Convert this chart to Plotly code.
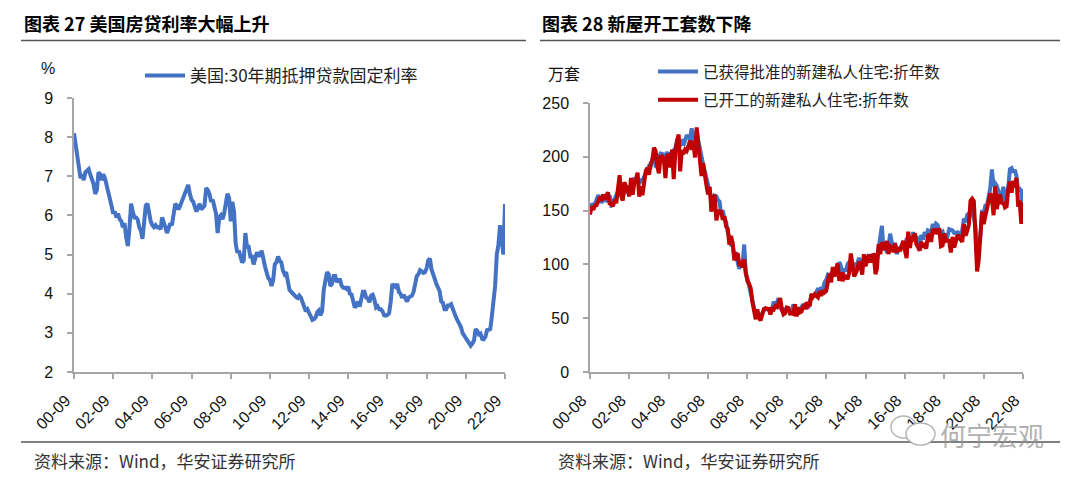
import pandas as pd
import plotly.graph_objects as go

W, H = 1080, 481
OFF = 8  # page body margin in the browser; screen px -> figure px

# ---------------- data ----------------
# Left: US 30-year fixed mortgage rate (%), monthly, 2000-09 .. 2022-09
rate_start = "2000-09-01"
rate_values = [
    8.10, 7.80, 7.60, 7.20,
    6.95, 7.05, 6.90, 7.10, 7.15, 7.18, 7.05, 6.95, 6.80, 6.55, 6.65, 7.10,
    7.05, 6.90, 7.05, 6.95, 6.80, 6.65, 6.45, 6.25, 6.05, 6.10, 5.95, 6.05,
    5.90, 5.85, 5.70, 5.80, 5.45, 5.22, 5.65, 6.30, 6.10, 5.95, 5.95, 5.90,
    5.70, 5.60, 5.40, 5.85, 6.25, 6.30, 6.05, 5.85, 5.75, 5.70, 5.75, 5.70,
    5.70, 5.65, 5.95, 5.85, 5.70, 5.55, 5.70, 5.80, 5.75, 6.05, 6.30, 6.25,
    6.15, 6.25, 6.35, 6.50, 6.60, 6.70, 6.78, 6.55, 6.40, 6.35, 6.20, 6.10,
    6.20, 6.30, 6.15, 6.20, 6.25, 6.70, 6.65, 6.55, 6.35, 6.40, 6.20, 6.05,
    5.55, 5.95, 6.00, 5.90, 6.05, 6.35, 6.55, 6.45, 5.85, 6.35, 6.10, 5.30,
    5.05, 5.10, 4.95, 4.80, 4.85, 5.55, 5.20, 5.20, 4.95, 4.95, 4.75, 4.90,
    5.05, 5.00, 4.95, 5.10, 4.85, 4.70, 4.55, 4.40, 4.35, 4.20, 4.35, 4.75,
    4.80, 4.95, 4.85, 4.80, 4.60, 4.50, 4.55, 4.30, 4.10, 4.05, 4.00, 3.95,
    3.92, 3.89, 3.95, 3.90, 3.80, 3.68, 3.55, 3.60, 3.50, 3.38, 3.33, 3.35,
    3.40, 3.53, 3.57, 3.45, 3.55, 4.10, 4.40, 4.55, 4.50, 4.20, 4.25, 4.45,
    4.45, 4.30, 4.35, 4.35, 4.20, 4.15, 4.15, 4.12, 4.18, 4.00, 3.98, 3.85,
    3.65, 3.70, 3.80, 3.67, 3.85, 4.05, 4.05, 3.90, 3.88, 3.78, 3.95, 3.97,
    3.85, 3.65, 3.68, 3.60, 3.60, 3.55, 3.45, 3.44, 3.46, 3.50, 3.80, 4.25,
    4.20, 4.17, 4.25, 4.05, 4.00, 3.90, 3.97, 3.88, 3.80, 3.90, 3.92, 3.95,
    4.05, 4.35, 4.45, 4.50, 4.60, 4.57, 4.53, 4.55, 4.65, 4.85, 4.90, 4.62,
    4.45, 4.37, 4.25, 4.15, 4.07, 3.80, 3.77, 3.60, 3.60, 3.70, 3.70, 3.73,
    3.62, 3.45, 3.40, 3.31, 3.23, 3.15, 3.00, 2.94, 2.88, 2.82, 2.75, 2.67,
    2.73, 2.81, 3.10, 3.05, 2.96, 2.98, 2.85, 2.84, 2.90, 3.07, 3.08, 3.10,
    3.45, 3.80, 4.20, 5.00, 5.25, 5.75, 5.30, 5.00, 6.29,
]
rate_ticks = ["00-09", "02-09", "04-09", "06-09", "08-09", "10-09",
              "12-09", "14-09", "16-09", "18-09", "20-09", "22-09"]

# Right: housing permits / starts (万套, SAAR), monthly, 2000-08 .. 2022-08
house_start = "2000-08-01"
permits = [
    153.3, 155.4, 155.8, 156.2, 160.2,
    164.4, 161.3, 157.2, 160.5, 162.5, 158.2, 162.4, 164.2, 154.8, 155.5, 160.9, 163.6,
    167.5, 168.1, 174.5, 162.4, 168.8, 173.2, 170.4, 167.5, 170.2, 172.1, 179.5, 179.6,
    177.4, 175.0, 178.1, 177.9, 181.4, 184.0, 187.8, 191.5, 190.9, 196.9, 201.7, 192.0,
    192.5, 199.6, 203.1, 202.8, 200.6, 201.6, 204.3, 200.6, 202.1, 204.4, 206.1, 208.0,
    214.9, 214.2, 209.9, 216.3, 210.7, 215.2, 220.2, 217.8, 216.8, 226.6, 209.5, 214.0,
    224.3, 215.0, 207.0, 201.6, 192.9, 186.6, 179.6, 174.6, 165.1, 158.3, 155.0, 163.8,
    163.2, 159.8, 158.4, 146.9, 150.4, 142.6, 139.5, 130.0, 122.9, 118.4, 118.5, 107.5,
    108.9, 100.7, 95.8, 101.4, 99.4, 118.5, 91.5, 86.6, 79.6, 73.5, 63.6, 56.1,
    53.0, 55.1, 52.1, 52.1, 54.9, 57.2, 58.2, 58.6, 58.5, 55.2, 58.9, 65.4,
    62.2, 64.9, 68.5, 59.9, 57.7, 58.4, 57.9, 57.7, 57.1, 57.0, 56.3, 62.7,
    56.6, 53.4, 59.5, 56.3, 60.4, 62.9, 59.4, 62.6, 59.4, 65.2, 71.0, 70.4,
    71.1, 73.5, 77.9, 73.2, 79.1, 76.8, 83.2, 85.6, 90.3, 89.1, 91.5, 90.9,
    93.9, 95.2, 90.7, 102.1, 98.5, 90.9, 96.0, 93.3, 100.3, 102.1, 99.4, 99.1,
    95.2, 101.4, 99.8, 106.1, 100.7, 100.5, 105.2, 99.9, 105.4, 109.2, 105.3, 106.1,
    106.8, 109.2, 105.1, 115.3, 127.1, 135.9, 113.2, 117.8, 110.7, 116.5, 128.6, 120.4,
    118.2, 118.4, 109.8, 113.3, 115.7, 116.4, 117.9, 114.7, 123.5, 124.2, 121.2, 122.8,
    130.0, 121.9, 126.0, 122.8, 116.8, 127.5, 123.0, 130.0, 126.2, 131.6, 130.3, 130.0,
    137.7, 133.0, 137.7, 136.4, 130.1, 129.2, 130.3, 124.9, 127.0, 126.5, 132.8, 132.6,
    131.7, 129.1, 128.8, 129.9, 129.4, 122.0, 131.7, 142.5, 139.1, 146.1, 147.4, 146.6,
    153.6, 145.2, 135.6, 106.6, 121.6, 125.8, 148.3, 147.6, 154.5, 154.5, 163.5, 170.9,
    188.3, 172.6, 175.5, 173.3, 168.3, 159.4, 163.0, 172.1, 158.6, 165.3, 171.7, 188.5,
    189.5, 185.7, 187.9, 182.3, 169.5, 170.1, 168.5, 151.7,
]
starts = [
    146.3, 154.1, 150.7, 154.9, 155.1,
    160.0, 162.5, 159.0, 164.9, 160.5, 163.6, 167.0, 156.7, 156.2, 154.0, 160.2, 156.8,
    169.8, 182.9, 164.2, 159.2, 176.4, 171.7, 165.5, 163.3, 180.4, 164.8, 175.3, 178.8,
    185.3, 162.9, 172.6, 164.3, 175.1, 186.7, 189.7, 183.3, 193.9, 196.7, 208.3, 205.7,
    191.1, 184.6, 199.8, 200.3, 198.1, 180.3, 200.7, 202.3, 190.1, 206.6, 179.2, 204.2,
    214.4, 220.7, 186.4, 206.1, 202.5, 206.8, 205.4, 209.5, 215.1, 206.5, 214.7, 199.4,
    227.3, 211.9, 196.9, 182.1, 194.2, 180.2, 173.7, 165.0, 172.0, 149.1, 157.0, 164.9,
    140.9, 148.0, 149.5, 149.0, 141.5, 144.8, 135.4, 133.0, 118.3, 126.4, 119.7, 103.7,
    108.4, 110.3, 100.5, 101.3, 97.3, 104.6, 92.3, 84.4, 82.0, 77.7, 65.2, 56.0,
    49.0, 58.2, 50.5, 47.8, 54.0, 58.5, 59.4, 58.6, 58.5, 53.4, 58.8, 58.1,
    61.4, 60.4, 63.6, 68.7, 58.3, 53.6, 54.6, 59.9, 59.4, 54.3, 54.5, 53.9,
    63.0, 51.7, 60.0, 55.4, 56.1, 60.8, 62.3, 58.5, 65.0, 61.1, 72.4, 69.9,
    72.3, 70.4, 69.5, 75.3, 70.8, 75.7, 74.0, 75.4, 84.7, 91.5, 83.3, 97.6,
    88.8, 96.2, 101.0, 84.7, 92.5, 84.4, 89.8, 88.3, 86.3, 92.1, 110.1, 100.1,
    88.8, 91.8, 95.4, 102.5, 98.5, 90.6, 109.5, 98.4, 103.1, 109.0, 101.6, 108.3,
    108.7, 90.9, 96.2, 118.8, 109.4, 120.6, 115.8, 113.7, 121.8, 109.7, 117.0, 116.0,
    111.5, 119.4, 111.0, 115.2, 112.4, 118.7, 121.8, 113.1, 105.8, 130.5, 115.4, 124.1,
    123.3, 128.9, 118.7, 116.2, 112.8, 121.0, 116.1, 117.8, 114.8, 126.4, 128.2, 120.9,
    132.7, 130.5, 133.0, 128.0, 133.7, 117.0, 117.7, 128.7, 121.9, 122.7, 121.7, 111.1,
    125.6, 115.7, 122.1, 126.2, 126.3, 123.7, 120.9, 137.5, 126.7, 131.3, 136.9, 159.2,
    161.1, 158.7, 128.1, 93.4, 103.8, 127.3, 148.7, 137.4, 144.7, 152.5, 155.6, 165.9,
    161.2, 145.7, 172.5, 151.4, 159.4, 165.0, 156.2, 158.0, 153.0, 153.9, 170.3, 176.8,
    166.6, 177.7, 171.6, 180.5, 156.2, 157.1, 137.7, 157.5,
]
house_ticks = ["00-08", "02-08", "04-08", "06-08", "08-08", "10-08",
               "12-08", "14-08", "16-08", "18-08", "20-08", "22-08"]

rate_dates = pd.date_range(rate_start, periods=len(rate_values), freq="MS")
house_dates = pd.date_range(house_start, periods=len(permits), freq="MS")


def tickdates(labels):
    return ["20" + s + "-01" for s in labels]


# ---------------- styling ----------------
BLUE = "#4472C4"
RED = "#C00000"
AXIS = "#A6A6A6"
NUM_FONT = "Liberation Sans, Arial, Noto Sans CJK SC"
CJK_FONT = "Noto Sans CJK SC, Liberation Sans"


def px_x(x):
    return (x - OFF) / W


def px_y(y):
    return 1 - (y - OFF) / H


fig = go.Figure()
fig.add_trace(go.Scatter(x=rate_dates, y=rate_values, mode="lines",
                         name="美国:30年期抵押贷款固定利率",
                         line=dict(color=BLUE, width=4),
                         xaxis="x", yaxis="y", legend="legend"))
fig.add_trace(go.Scatter(x=house_dates, y=permits, mode="lines",
                         name="已获得批准的新建私人住宅:折年数",
                         line=dict(color=BLUE, width=4), legendgroup="a",
                         xaxis="x2", yaxis="y2", legend="legend2"))
fig.add_trace(go.Scatter(x=house_dates, y=starts, mode="lines",
                         name="已开工的新建私人住宅:折年数",
                         line=dict(color=RED, width=4), legendgroup="b",
                         xaxis="x2", yaxis="y2", legend="legend2"))

axis_common = dict(showgrid=False, zeroline=False, showline=True,
                   automargin=False,
                   linecolor=AXIS, linewidth=1.5, ticks="outside",
                   tickcolor=AXIS, ticklen=5, tickwidth=1.5,
                   tickfont=dict(family=NUM_FONT, size=16, color="#111111"))
xtick_extra = dict(tickangle=-45, ticklabelstandoff=6, ticklabelshift=-8)

fig.update_layout(
    width=W, height=H, autosize=False,
    margin=dict(l=0, r=0, t=0, b=0, pad=0, autoexpand=False),
    paper_bgcolor="white", plot_bgcolor="white",
    showlegend=True,
    xaxis=dict(domain=[px_x(74), px_x(505)], anchor="y", type="date",
               range=[rate_start, "2022-09-01"],
               tickvals=tickdates(rate_ticks), ticktext=rate_ticks,
               **xtick_extra, **axis_common),
    yaxis=dict(domain=[px_y(372), px_y(98)], anchor="x", range=[2, 9],
               dtick=1, ticklabelstandoff=11, **axis_common),
    xaxis2=dict(domain=[px_x(590), px_x(1023)], anchor="y2", type="date",
                range=[house_start, "2022-08-01"],
                tickvals=tickdates(house_ticks), ticktext=house_ticks,
                **xtick_extra, **axis_common),
    yaxis2=dict(domain=[px_y(372), px_y(103)], anchor="x2", range=[0, 250],
                dtick=50, ticklabelstandoff=11, **axis_common),
    legend=dict(x=px_x(140), y=px_y(58), xanchor="left", yanchor="top",
                bgcolor="rgba(0,0,0,0)", itemwidth=40,
                font=dict(family=CJK_FONT, size=17, color="#222222")),
    legend2=dict(x=px_x(653), y=px_y(55), xanchor="left", yanchor="top",
                 bgcolor="rgba(0,0,0,0)", tracegroupgap=5, itemwidth=40,
                 font=dict(family=CJK_FONT, size=15.5, color="#222222")),
)

P = dict(xref="paper", yref="paper", showarrow=False)
annotations = [
    dict(text="<b>图表 27 美国房贷利率大幅上升</b>", x=px_x(22), y=px_y(23),
         xanchor="left", yanchor="middle",
         font=dict(family=CJK_FONT, size=18, color="#000000"), **P),
    dict(text="<b>图表 28 新屋开工套数下降</b>", x=px_x(540), y=px_y(23),
         xanchor="left", yanchor="middle",
         font=dict(family=CJK_FONT, size=18, color="#000000"), **P),
    dict(text="%", x=px_x(48), y=px_y(68), xanchor="center", yanchor="middle",
         font=dict(family=NUM_FONT, size=16, color="#111111"), **P),
    dict(text="万套", x=px_x(564), y=px_y(73), xanchor="center", yanchor="middle",
         font=dict(family=CJK_FONT, size=16, color="#111111"), **P),
    dict(text="资料来源：Wind，华安证券研究所", x=px_x(32), y=px_y(460),
         xanchor="left", yanchor="middle",
         font=dict(family=CJK_FONT, size=17, color="#333333"), **P),
    dict(text="资料来源：Wind，华安证券研究所", x=px_x(556), y=px_y(460),
         xanchor="left", yanchor="middle",
         font=dict(family=CJK_FONT, size=17, color="#333333"), **P),
    dict(text="何宁宏观", x=px_x(992), y=px_y(434), xanchor="center",
         yanchor="middle",
         font=dict(family=CJK_FONT, size=26, color="rgba(150,150,150,0.75)"), **P),
]
fig.update_layout(annotations=annotations)

shapes = [
    dict(type="line", xref="paper", yref="paper", x0=px_x(21), x1=px_x(526),
         y0=px_y(40.5), y1=px_y(40.5), line=dict(color="#555555", width=1.5)),
    dict(type="line", xref="paper", yref="paper", x0=px_x(540), x1=px_x(1060),
         y0=px_y(40.5), y1=px_y(40.5), line=dict(color="#555555", width=1.5)),
    dict(type="line", xref="paper", yref="paper", x0=px_x(21), x1=px_x(1060),
         y0=px_y(442), y1=px_y(442), line=dict(color="#555555", width=1.5)),
    # watermark icon (two speech bubbles)
    dict(type="circle", xref="paper", yref="paper", x0=px_x(891), x1=px_x(916),
         y0=px_y(438), y1=px_y(416), line=dict(color="rgba(150,150,150,0.7)", width=1.5)),
    dict(type="circle", xref="paper", yref="paper", x0=px_x(906), x1=px_x(935),
         y0=px_y(445), y1=px_y(423), fillcolor="white",
         line=dict(color="rgba(150,150,150,0.7)", width=1.5)),
]
fig.update_layout(shapes=shapes)

fig.write_html("out.html")
